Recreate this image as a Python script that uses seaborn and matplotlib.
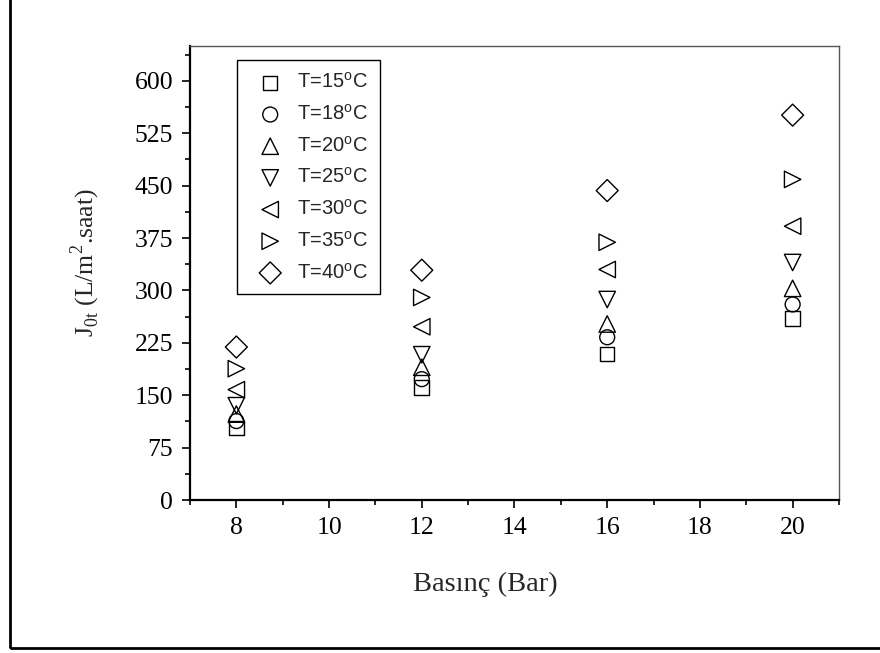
import matplotlib
matplotlib.use("Agg")
import matplotlib.pyplot as plt
import seaborn as sns
import pandas as pd
from matplotlib.patches import Rectangle
from matplotlib.ticker import MultipleLocator

pressure = [8, 12, 16, 20]
labels = ["T=15$^\\mathregular{o}$C", "T=18$^\\mathregular{o}$C", "T=20$^\\mathregular{o}$C",
          "T=25$^\\mathregular{o}$C", "T=30$^\\mathregular{o}$C", "T=35$^\\mathregular{o}$C",
          "T=40$^\\mathregular{o}$C"]
markers = ["s", "o", "^", "v", "<", ">", "D"]
t15 = [103, 161, 209, 260]
t18 = [113, 173, 233, 280]
t20 = [123, 190, 252, 303]
t25 = [135, 208, 287, 340]
t30 = [158, 248, 330, 392]
t35 = [188, 290, 369, 459]
t40 = [219, 329, 443, 551]
series = [t15, t18, t20, t25, t30, t35, t40]

sizes = {"s": 110, "o": 115, "^": 140, "v": 140, "<": 140, ">": 140, "D": 125}

sns.set_style("white")
fig = plt.figure(figsize=(8.8, 6.53), dpi=100)
ax = fig.add_axes([0.2159, 0.2343, 0.9534 - 0.2159, 0.9296 - 0.2343])

for lab, m, vals in zip(labels, markers, series):
    df = pd.DataFrame({"x": pressure, "y": vals})
    sns.scatterplot(data=df, x="x", y="y", marker=m, s=sizes[m], facecolors="none",
                    edgecolors="black", linewidth=1.0, ax=ax, label=lab, zorder=3)

ax.set_xlim(7, 21)
ax.set_ylim(0, 650)
ax.xaxis.set_major_locator(MultipleLocator(2))
ax.xaxis.set_minor_locator(MultipleLocator(1))
ax.yaxis.set_major_locator(MultipleLocator(75))
ax.yaxis.set_minor_locator(MultipleLocator(37.5))
ax.tick_params(axis="both", which="major", direction="out", length=6, width=1.2,
               colors="black", labelsize=18.5, bottom=True, left=True, top=False, right=False)
ax.tick_params(axis="x", which="major", pad=6)
ax.tick_params(axis="y", which="major", pad=6)
ax.tick_params(axis="both", which="minor", direction="out", length=3.5, width=1.2,
               colors="black", bottom=True, left=True, top=False, right=False)
for lbl in ax.get_xticklabels() + ax.get_yticklabels():
    lbl.set_fontfamily("Liberation Serif")

for side in ["left", "bottom"]:
    ax.spines[side].set_color("black")
    ax.spines[side].set_linewidth(1.6)
for side in ["top", "right"]:
    ax.spines[side].set_color("#555555")
    ax.spines[side].set_linewidth(1.0)
    ax.spines[side].set_visible(True)

ax.set_xlabel("Basınç (Bar)", fontsize=20.5, fontfamily="Liberation Serif")
ax.xaxis.set_label_coords(0.4545, -0.158)
ax.set_ylabel("J$_\\mathregular{0t}$ (L/m$^\\mathregular{2}$.saat)", fontsize=18.5,
              fontfamily="Liberation Serif")
ax.yaxis.set_label_coords(-0.136, 0.522)

leg = ax.legend(loc="upper left", bbox_to_anchor=(0.0724, 0.969), borderaxespad=0,
                frameon=True, fancybox=False, edgecolor="black", framealpha=1,
                prop={"family": "Liberation Sans", "size": 14.5}, labelspacing=0.58,
                handletextpad=0.3, borderpad=0.6, handlelength=2.1)
leg.get_frame().set_linewidth(1.0)

fig.patches.append(Rectangle((10 / 880, 5 / 653), 1.2, 1.2, transform=fig.transFigure,
                             fill=False, edgecolor="black", linewidth=2.0, zorder=10))

fig.savefig("out.png", dpi=100)
